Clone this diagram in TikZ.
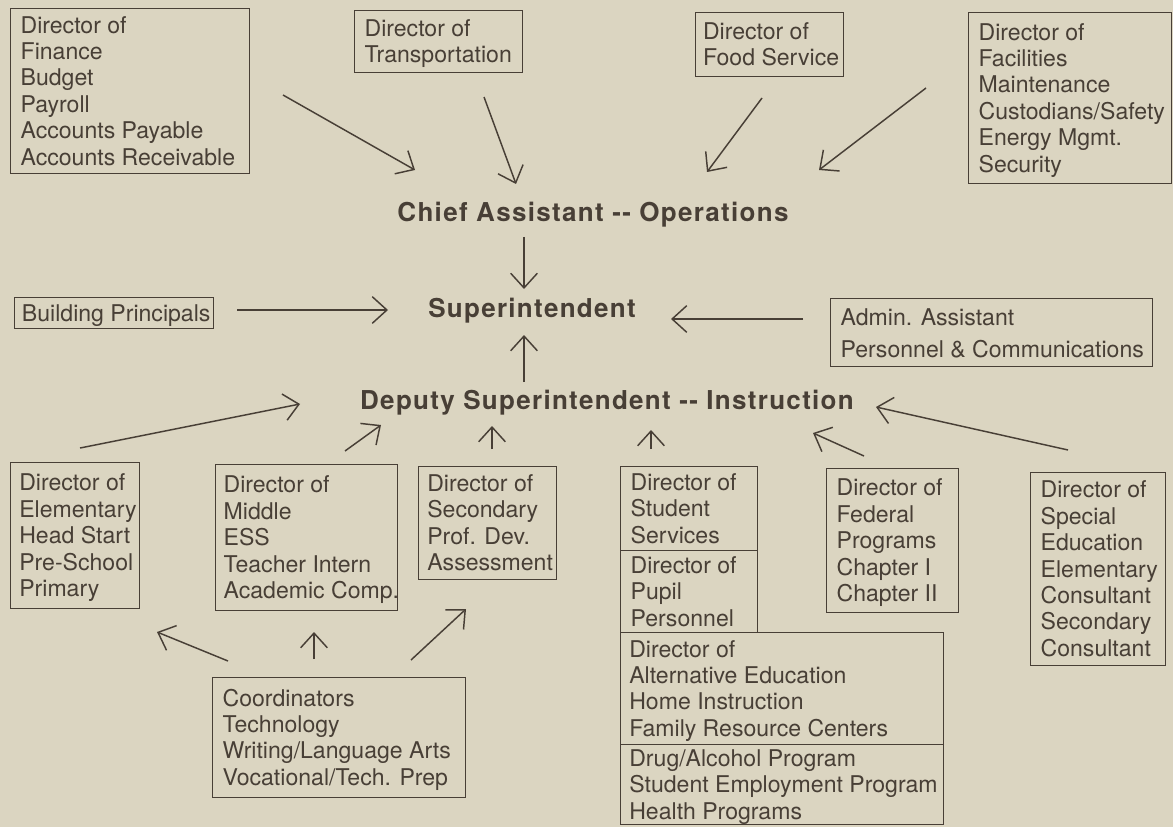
\documentclass[tikz,border=0pt]{standalone}
\usepackage{fontspec}
\setmainfont{TeX Gyre Heros}
\newfontfamily\titlefont[LetterSpace=5]{TeX Gyre Heros}
\usetikzlibrary{arrows.meta}
\definecolor{paper}{RGB}{219,213,193}
\definecolor{ink}{RGB}{72,63,54}
\newcommand{\bx}[2]{\makebox[#1][l]{\hspace{1.5pt}\raisebox{-2pt}[\height][\depth]{\begin{tabular}{@{}l@{}}#2\end{tabular}}}}
\tikzset{
  box/.style={draw=ink, line width=1pt, inner xsep=6pt, inner ysep=0pt, anchor=north west,
    text=ink, font=\fontsize{17.3}{19.8}\selectfont},
  ttl/.style={text=ink, font=\titlefont\bfseries\fontsize{19.5}{22}\selectfont, inner sep=0pt},
  arr/.style={draw=ink, line width=1.1pt, -{Straight Barb[length=11pt,width=20pt,line width=1.1pt]}}
}
\begin{document}
\begin{tikzpicture}[x=0.75pt,y=-0.75pt]
\fill[paper] (0,0) rectangle (1173,827);
\useasboundingbox (0,0) rectangle (1173,827);
% top row
\node[box, minimum width=179.25pt, minimum height=123.75pt] (fin) at (10,8)
  {\bx{167.25pt}{Director of\\Finance\\Budget\\Payroll\\Accounts Payable\\Accounts Receivable}};
\node[box, minimum width=126pt, minimum height=46.5pt] (trans) at (354,10)
  {\bx{114pt}{Director of\\Transportation}};
\node[box, inner xsep=4pt, minimum width=111pt, minimum height=48pt] (food) at (695,12)
  {\bx{103pt}{Director of\\Food Service}};
\node[box, minimum width=152.25pt, minimum height=128.25pt] (fac) at (968,12)
  {\bx{140.25pt}{Director of\\Facilities\\Maintenance\\Custodians/Safety\\Energy Mgmt.\\Security}};
% titles
\node[ttl] (chief) at (593,215) {Chief Assistant -- Operations};
\node[ttl] (sup) at (532,311) {Superintendent};
\node[ttl] (dep) at (607,403) {Deputy Superintendent -- Instruction};
% middle row
\node[box, inner xsep=4pt, minimum width=149.25pt, minimum height=23.25pt] (bp) at (14,297)
  {\bx{141.25pt}{Building Principals}};
\node[box, minimum width=241.5pt, minimum height=51pt] (admin) at (830,298)
  {\renewcommand{\arraystretch}{1.18}\bx{229.5pt}{Admin. Assistant\\Personnel \& Communications}};
% lower row
\node[box, inner xsep=5pt, minimum width=96.75pt, minimum height=109.5pt] (elem) at (10,462)
  {\bx{86.75pt}{Director of\\Elementary\\Head Start\\Pre-School\\Primary}};
\node[box, inner xsep=4.5pt, minimum width=136.5pt, minimum height=109.5pt] (mid) at (215,464)
  {\bx{127.5pt}{Director of\\Middle\\ESS\\Teacher Intern\\Academic Comp.}};
\node[box, inner xsep=5pt, minimum width=103.5pt, minimum height=84.75pt] (sec) at (418,466)
  {\bx{93.5pt}{Director of\\Secondary\\Prof. Dev.\\Assessment}};
\node[box, minimum width=102.75pt, minimum height=63pt] (stud) at (620,466)
  {\bx{90.75pt}{Director of\\Student\\Services}};
\node[box, minimum width=102.75pt, minimum height=61.5pt] (pupil) at (620,550)
  {\bx{90.75pt}{Director of\\Pupil\\Personnel}};
\node[box, inner xsep=5pt, minimum width=242.25pt, minimum height=84pt] (alt) at (620,632)
  {\bx{232.25pt}{Director of\\Alternative Education\\Home Instruction\\Family Resource Centers}};
\node[box, inner xsep=5pt, minimum width=242.25pt, minimum height=60pt] (drug) at (620,744)
  {\bx{232.25pt}{Drug/Alcohol Program\\Student Employment Program\\Health Programs}};
\node[box, minimum width=99pt, minimum height=108pt] (fed) at (826,468)
  {\bx{87pt}{Director of\\Federal\\Programs\\Chapter I\\Chapter II}};
\node[box, minimum width=101.25pt, minimum height=144.75pt] (spec) at (1030,472)
  {\bx{89.25pt}{Director of\\Special\\Education\\Elementary\\Consultant\\Secondary\\Consultant}};
\node[box, minimum width=189.75pt, minimum height=90pt] (coord) at (212,677)
  {\bx{177.75pt}{Coordinators\\Technology\\Writing/Language Arts\\Vocational/Tech. Prep}};
% arrow ends
\coordinate (a1s) at (283,95);   \coordinate (a1e) at (415,170);
\coordinate (a2s) at (484,97);   \coordinate (a2e) at (516,184);
\coordinate (a3s) at (762,98);   \coordinate (a3e) at (707,172);
\coordinate (a4s) at (926,88);   \coordinate (a4e) at (819,170);
\coordinate (a5s) at (524,237);  \coordinate (a5e) at (524,289);
\coordinate (a6s) at (237,310);  \coordinate (a6e) at (388,310);
\coordinate (a7s) at (803,319);  \coordinate (a7e) at (671,319);
\coordinate (a8s) at (524,382);  \coordinate (a8e) at (524,335);
\coordinate (a9s) at (80,448);   \coordinate (a9e) at (300,404);
\coordinate (a10s) at (345,451); \coordinate (a10e) at (381,425);
\coordinate (a11s) at (492,449); \coordinate (a11e) at (492,426);
\coordinate (a12s) at (651,449); \coordinate (a12e) at (651,430);
\coordinate (a13s) at (864,456); \coordinate (a13e) at (813,433);
\coordinate (a14s) at (1068,450);\coordinate (a14e) at (876,407);
\coordinate (a15s) at (228,661); \coordinate (a15e) at (157,632);
\coordinate (a16s) at (314,659); \coordinate (a16e) at (314,632);
\coordinate (a17s) at (411,660); \coordinate (a17e) at (466,609);
\foreach \i in {1,...,17} {\draw[arr] (a\i s) -- (a\i e);}
\end{tikzpicture}
\end{document}
